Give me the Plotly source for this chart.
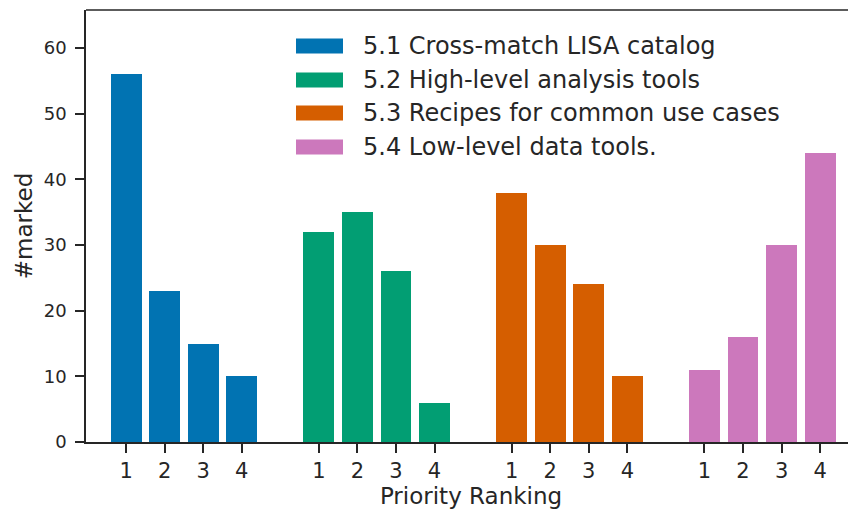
import plotly.graph_objects as go

series_names = ["5.1 Cross-match LISA catalog", "5.2 High-level analysis tools",
                "5.3 Recipes for common use cases", "5.4 Low-level data tools."]
rank_labels = ["1", "2", "3", "4"]
counts_51 = [56, 23, 15, 10]
counts_52 = [32, 35, 26, 6]
counts_53 = [38, 30, 24, 10]
counts_54 = [11, 16, 30, 44]
colors = ["#0173b2", "#029e73", "#d55e00", "#cc78bc"]

all_counts = [counts_51, counts_52, counts_53, counts_54]
fig = go.Figure()
tickvals, ticktext = [], []
for g, (name, vals, col) in enumerate(zip(series_names, all_counts, colors)):
    xs = [g * 5 + i for i in range(len(vals))]
    tickvals += xs
    ticktext += rank_labels
    fig.add_trace(go.Bar(x=xs, y=vals, name=name, marker=dict(color=col, line=dict(width=0)),
                         width=0.8, showlegend=False))

FONT = "DejaVu Sans"
TXT = "#262626"
# page body has an 8px margin; target window coordinates of the axes box
OFF = 8
L, R, T, B = 86, 856, 10, 442
W, H = R - L, B - T
def px(x): return (x - L) / W
def py(y): return (B - y) / H
row_y = [46, 80, 113, 147]
for name, col, yc in zip(series_names, colors, row_y):
    fig.add_shape(type="rect", xref="paper", yref="paper",
                  x0=px(296), x1=px(343), y0=py(yc + 7.5), y1=py(yc - 7.5),
                  fillcolor=col, line=dict(width=0))
    fig.add_annotation(xref="paper", yref="paper", x=px(361), y=py(yc), text=name,
                       showarrow=False, xanchor="left", yanchor="middle",
                       font=dict(family=FONT, size=24, color=TXT))
# top spine
fig.add_shape(type="line", xref="paper", yref="paper", x0=0, x1=1, y0=1, y1=1,
              line=dict(color=TXT, width=1.5))

fig.update_layout(
    width=856 - OFF, height=510 - OFF,
    margin=dict(l=L - OFF, r=0, t=T - OFF, b=510 - B),
    plot_bgcolor="white", paper_bgcolor="white",
    font=dict(family=FONT, color=TXT),
    xaxis=dict(range=[-1.04, 18.93], tickmode="array", tickvals=tickvals, ticktext=ticktext,
               showgrid=False, zeroline=False, showline=True, linecolor=TXT, linewidth=1.5,
               ticks="outside", ticklen=9, tickwidth=1.5, tickcolor=TXT,
               tickfont=dict(size=21, family=FONT, color=TXT), ticklabelstandoff=0,
               title=dict(text="Priority Ranking", font=dict(size=23, family=FONT, color=TXT), standoff=2)),
    yaxis=dict(range=[0, 65.8], tickvals=[0, 10, 20, 30, 40, 50, 60],
               showgrid=False, zeroline=False, showline=True, linecolor=TXT, linewidth=1.5,
               ticks="outside", ticklen=9, tickwidth=1.5, tickcolor=TXT,
               tickfont=dict(size=18, family=FONT, color=TXT), ticklabelstandoff=5,
               title=dict(text="#marked", font=dict(size=23, family=FONT, color=TXT), standoff=5)),
    bargap=0,
)
fig.write_html("out.html")
